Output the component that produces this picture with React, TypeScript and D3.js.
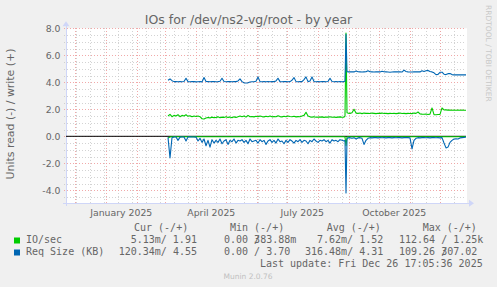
import React from "react";
import * as d3 from "d3";

const W = 497;
const H = 287;
const START = new Date(2024, 10, 21, 17, 5, 36);
const END = new Date(2025, 11, 26, 17, 5, 36);

// day offsets from START of each sample
const dayOffsets: number[] = [...d3.range(102, 279, 2), 279, 280, 281, ...d3.range(282, 401, 2)];

// Req Size (KB) write (+)
const reqWrite = [
  4.15, 4.25, 4.12, 4.05, 4.05, 4.04, 4.05, 4.04, 4.06, 4.3,
  4.05, 4.04, 4.05, 4.05, 4.03, 4.04, 4.05, 4.03, 4.35, 4.06,
  4.05, 4.04, 4.05, 4.06, 4.04, 4.05, 4.08, 4.3, 4.06, 4.04,
  4.05, 4.05, 4.04, 4.06, 4.05, 4.1, 4.25, 4.05, 3.96, 3.95,
  3.96, 4.02, 4.04, 4.04, 4.08, 4.4, 4.05, 4.04, 4.05, 4.04,
  4.05, 4.04, 4.05, 4.05, 4.1, 4.3, 4.05, 4.04, 4.05, 4.05,
  4.04, 4.05, 4.15, 4.35, 4.05, 4.04, 4.05, 4.05, 4.2, 4.4,
  4.05, 4.1, 4.4, 4.06, 4.04, 4.05, 4.04, 4.05, 4.05, 4.04,
  4.06, 4.3, 4.06, 4.04, 4.05, 4.04, 4.05, 4.04, 4.05,
  4.1, 7.55, 4.8,
  4.77, 4.77, 4.78, 4.77, 4.83, 4.78, 4.77, 4.76, 4.77, 4.78,
  4.85, 4.78, 4.77, 4.76, 4.77, 4.78, 4.77, 4.82, 4.78, 4.77,
  4.76, 4.75, 4.76, 4.77, 4.77, 4.78, 4.77, 4.76, 4.9, 4.8,
  4.77, 4.76, 4.76, 4.77, 4.77, 4.78, 4.77, 4.85, 4.8, 4.86,
  4.88, 4.8, 4.77, 4.7, 4.57, 4.58, 4.74, 4.75, 4.6, 4.57,
  4.64, 4.65, 4.57, 4.55, 4.56, 4.55, 4.55, 4.56, 4.55, 4.55,
];

// IO/sec write (+)
const ioWrite = [
  1.5, 1.62, 1.45, 1.55, 1.5, 1.6, 1.45, 1.55, 1.5, 1.6,
  1.48, 1.52, 1.45, 1.5, 1.47, 1.5, 1.45, 1.3, 1.28, 1.35,
  1.4, 1.36, 1.42, 1.38, 1.4, 1.44, 1.38, 1.42, 1.4, 1.45,
  1.4, 1.43, 1.38, 1.44, 1.4, 1.45, 1.5, 1.45, 1.5, 1.42,
  1.55, 1.45, 1.47, 1.44, 1.48, 1.45, 1.5, 1.46, 1.44, 1.48,
  1.45, 1.5, 1.44, 1.47, 1.45, 1.52, 1.46, 1.44, 1.48, 1.45,
  1.5, 1.47, 1.45, 1.48, 1.44, 1.46, 1.45, 1.5, 1.55, 1.78,
  1.5, 1.44, 1.42, 1.45, 1.41, 1.43, 1.42, 1.44, 1.4, 1.43,
  1.42, 1.45, 1.41, 1.43, 1.4, 1.42, 1.44, 1.41, 1.42,
  1.5, 7.65, 1.75,
  1.72, 1.7, 1.74, 2.0, 1.72, 1.7, 1.73, 1.68, 1.72, 1.7,
  1.71, 1.69, 1.72, 1.7, 1.68, 1.71, 1.7, 1.72, 1.69, 1.7,
  1.68, 1.7, 1.69, 1.71, 1.68, 1.7, 1.72, 1.69, 1.7, 1.68,
  1.7, 1.69, 1.68, 1.72, 1.7, 1.8, 1.66, 1.64, 1.63, 1.65,
  1.62, 1.64, 2.1, 1.6, 1.6, 1.61, 1.62, 2.1, 1.95, 1.96,
  1.94, 1.95, 1.93, 1.94, 1.93, 1.94, 1.93, 1.94, 1.93, 1.93,
];

// Req Size (KB) read (-)
const reqRead = [
  -0.08, -1.6, -0.1, -0.05, -0.05, -0.3, -0.06, -0.05, -0.05, -0.35,
  -0.05, -0.04, -0.05, -0.05, -0.06, -0.35, -0.15, -0.45, -0.2, -0.7,
  -0.3, -0.8, -0.25, -0.5, -0.3, -0.45, -0.2, -0.55, -0.35, -0.25,
  -0.6, -0.3, -0.4, -0.2, -0.5, -0.3, -0.35, -0.25, -0.45, -0.3,
  -0.55, -0.2, -0.4, -0.35, -0.3, -0.5, -0.25, -0.4, -0.3, -0.6,
  -0.35, -0.25, -0.45, -0.3, -0.5, -0.2, -0.4, -0.35, -0.55, -0.3,
  -0.45, -0.25, -0.35, -0.5, -0.3, -0.4, -0.25, -0.45, -0.3, -0.35,
  -0.55, -0.3, -0.4, -0.2, -0.35, -0.45, -0.3, -0.35, -0.25, -0.4,
  -0.3, -0.5, -0.25, -0.35, -0.3, -0.4, -0.25, -0.3, -0.35,
  -0.3, -4.2, -0.2,
  -0.12, -0.1, -0.15, -0.1, -0.2, -0.12, -0.1, -0.15, -0.6, -0.3,
  -0.15, -0.1, -0.12, -0.1, -0.1, -0.12, -0.1, -0.11, -0.1, -0.12,
  -0.1, -0.1, -0.12, -0.1, -0.11, -0.1, -0.1, -0.12, -0.1, -0.1,
  -0.1, -0.12, -0.93, -0.3, -0.15, -0.1, -0.12, -0.1, -0.1, -0.11,
  -0.1, -0.12, -0.1, -0.1, -0.11, -0.1, -0.12, -0.1, -0.5, -0.86,
  -0.8, -0.45, -0.3, -0.2, -0.18, -0.2, -0.12, -0.1, -0.08, -0.05,
];

// IO/sec read (-)
const ioRead = [
  -0.12, -0.05, -0.03, -0.03, -0.03, -0.03, -0.03, -0.03, -0.03, -0.03,
  -0.03, -0.03, -0.03, -0.03, -0.03, -0.03, -0.03, -0.03, -0.03, -0.03,
  -0.03, -0.03, -0.03, -0.03, -0.03, -0.03, -0.03, -0.03, -0.03, -0.03,
  -0.03, -0.03, -0.03, -0.03, -0.03, -0.03, -0.03, -0.03, -0.03, -0.03,
  -0.03, -0.03, -0.03, -0.03, -0.03, -0.03, -0.03, -0.03, -0.03, -0.03,
  -0.03, -0.03, -0.03, -0.03, -0.03, -0.03, -0.03, -0.03, -0.03, -0.03,
  -0.03, -0.03, -0.03, -0.03, -0.03, -0.03, -0.03, -0.03, -0.03, -0.03,
  -0.03, -0.03, -0.03, -0.03, -0.03, -0.03, -0.03, -0.03, -0.03, -0.03,
  -0.03, -0.03, -0.03, -0.03, -0.03, -0.03, -0.03, -0.03, -0.03,
  -0.05, -0.7, -0.05,
  -0.03, -0.03, -0.03, -0.03, -0.03, -0.03, -0.03, -0.03, -0.03, -0.03,
  -0.03, -0.03, -0.03, -0.03, -0.03, -0.03, -0.03, -0.03, -0.03, -0.03,
  -0.03, -0.03, -0.03, -0.03, -0.03, -0.03, -0.03, -0.03, -0.03, -0.03,
  -0.03, -0.03, -0.03, -0.03, -0.03, -0.03, -0.03, -0.03, -0.03, -0.03,
  -0.03, -0.03, -0.03, -0.03, -0.03, -0.03, -0.03, -0.03, -0.03, -0.03,
  -0.03, -0.03, -0.03, -0.03, -0.03, -0.03, -0.03, -0.03, -0.03, -0.03,
];

const yMajorTicks = [-4, -2, 0, 2, 4, 6, 8];
const yMinorTicks = [-4.5, -3.5, -3, -2.5, -1.5, -1, -0.5, 0.5, 1, 1.5, 2.5, 3, 3.5, 4.5, 5, 5.5, 6.5, 7, 7.5];
const monthLabels = ["January 2025", "April 2025", "July 2025", "October 2025"];

const legendHeaders = ["Cur (-/+)", "Min (-/+)", "Avg (-/+)", "Max (-/+)"];
const seriesNames = ["IO/sec", "Req Size (KB)"];
const seriesColors = ["#00CC00", "#0066B3"];
// [before slash, after slash] pairs; overlapping slash reproduced as in the original
const legendRow1: [string, string][] = [["5.13m", " 1.91"], ["0.00 ", "383.88m"], ["7.62m", " 1.52"], ["112.64 ", " 1.25k"]];
const legendRow2: [string, string][] = [["120.34m", " 4.55"], ["0.00 ", " 3.70"], ["316.48m", " 4.31"], ["109.26 ", "307.02"]];
const overlapRow1 = [false, true, false, false];
const overlapRow2 = [false, false, false, true];

const L = 66, R = 466, T = 28.3, B = 203.3;

export default function App() {
  const x = d3.scaleTime().domain([START, END]).range([L, R]);
  const y = d3.scaleLinear().domain([-4.963, 8]).range([B, T]);
  const dates = dayOffsets.map((d) => d3.timeDay.offset(START, d));

  const mkLine = (vals: number[]) =>
    d3
      .line<number>()
      .x((_, i) => x(dates[i]))
      .y((v) => y(v))(vals) || "";

  const months = d3.timeMonth.range(START, END);
  const minorV: Date[] = [];
  for (let t = new Date(2024, 10, 18); t < END; t = d3.timeDay.offset(t, 14)) {
    if (t > START) minorV.push(t);
  }
  const labelMonths = [new Date(2025, 0, 1), new Date(2025, 3, 1), new Date(2025, 6, 1), new Date(2025, 9, 1)];

  const sans = "'DejaVu Sans', sans-serif";
  const mono = "'DejaVu Sans Mono', monospace";
  const fc = "#666666";
  const cw = 6.02;

  const colStart1 = [130.7, 224, 317, 399];
  const colStart2 = [118.7, 224, 305, 399];

  const legendCell = (pair: [string, string], overlap: boolean, xs: number, ys: number, key: string) => (
    <text key={key} x={xs} y={ys} fontFamily={mono} fontSize={10} fill={fc} style={{ whiteSpace: "pre" }}>
      <tspan>{pair[0]}</tspan>
      <tspan>/</tspan>
      <tspan dx={overlap ? -cw : 0}>{pair[1]}</tspan>
    </text>
  );

  return (
    <svg width={W} height={H} style={{ position: "absolute", left: 0, top: 0 }} xmlns="http://www.w3.org/2000/svg">
      <rect x={0} y={0} width={W} height={H} fill="#F0F0F0" />
      <rect x={L} y={T} width={R - L + 1} height={B - T} fill="#FFFFFF" />

      <g stroke="#c8c8c8" strokeWidth={0.8} strokeDasharray="1,2" shapeRendering="crispEdges">
        {yMinorTicks.map((v) => (
          <line key={"hm" + v} x1={L - 2} x2={R} y1={Math.round(y(v)) + 0.5} y2={Math.round(y(v)) + 0.5} />
        ))}
        {minorV.map((d) => (
          <line key={"vm" + d.getTime()} x1={Math.round(x(d)) + 0.5} x2={Math.round(x(d)) + 0.5} y1={T} y2={B + 2} />
        ))}
      </g>
      <g stroke="#f0a0a0" strokeWidth={0.9} strokeDasharray="1,2" shapeRendering="crispEdges">
        {yMajorTicks.map((v) => (
          <line key={"hM" + v} x1={L - 2} x2={R} y1={Math.round(y(v)) + 0.5} y2={Math.round(y(v)) + 0.5} />
        ))}
        {months.map((d) => (
          <line key={"vM" + d.getTime()} x1={Math.round(x(d)) + 0.5} x2={Math.round(x(d)) + 0.5} y1={T} y2={B + 2} />
        ))}
      </g>

      <g stroke="#CFD6F8" strokeWidth={1} shapeRendering="crispEdges">
        <line x1={L - 3} x2={R + 4} y1={B} y2={B} />
        <line x1={L} x2={L} y1={B + 3} y2={T - 4} />
      </g>
      <path d={`M${R + 3},${B - 3.5} L${R + 8},${B} L${R + 3},${B + 3.5} Z`} fill="#CFD6F8" />
      <path d={`M${L - 3.5},${T - 2} L${L},${T - 7} L${L + 3.5},${T - 2} Z`} fill="#CFD6F8" />

      {yMajorTicks.map((v) => (
        <text key={"yl" + v} x={60.5} y={y(v) + 3.4} textAnchor="end" fontFamily={sans} fontSize={9.33} fill={fc}>
          {v.toFixed(1)}
        </text>
      ))}
      {labelMonths.map((d, i) => (
        <text key={"xl" + i} x={x(d3.timeDay.offset(d, 15))} y={216} textAnchor="middle" fontFamily={sans} fontSize={9.33} fill={fc}>
          {monthLabels[i]}
        </text>
      ))}

      <line x1={L} x2={R} y1={y(0)} y2={y(0)} stroke="#000" strokeWidth={1} />

      <g fill="none" strokeWidth={1.1} strokeLinejoin="round">
        <path d={mkLine(ioRead)} stroke={seriesColors[0]} />
        <path d={mkLine(ioWrite)} stroke={seriesColors[0]} />
        <path d={mkLine(reqRead)} stroke={seriesColors[1]} />
        <path d={mkLine(reqWrite)} stroke={seriesColors[1]} />
      </g>

      <text x={248.5} y={24} textAnchor="middle" fontFamily={sans} fontSize={12.5} fill={fc}>
        IOs for /dev/ns2-vg/root - by year
      </text>
      <text transform="translate(14.3,114) rotate(-90)" textAnchor="middle" fontFamily={sans} fontSize={10.9} fill={fc}>
        Units read (-) / write (+)
      </text>
      <text transform="translate(485.5,5) rotate(90)" textAnchor="start" fontFamily={sans} fontSize={7.5} fill="#c8c8c8">
        RRDTOOL / TOBI OETIKER
      </text>

      {legendHeaders.map((h, i) => (
        <text key={"lh" + i} x={[134, 230, 326.7, 422.7][i]} y={231} fontFamily={mono} fontSize={10} fill={fc} style={{ whiteSpace: "pre" }}>
          {h}
        </text>
      ))}
      {seriesNames.map((n, r) => (
        <g key={"ls" + r}>
          <rect x={14} y={237.5 + r * 12} width={6} height={6} fill={seriesColors[r]} />
          <text x={26} y={243 + r * 12} fontFamily={mono} fontSize={10} fill={fc} style={{ whiteSpace: "pre" }}>
            {n}
          </text>
        </g>
      ))}
      {legendRow1.map((p, i) => legendCell(p, overlapRow1[i], colStart1[i], 243, "r1" + i))}
      {legendRow2.map((p, i) => legendCell(p, overlapRow2[i], colStart2[i], 255, "r2" + i))}
      <text x={482.7} y={267} textAnchor="end" fontFamily={mono} fontSize={10} fill={fc}>
        Last update: Fri Dec 26 17:05:36 2025
      </text>
      <text x={248} y={279} textAnchor="middle" fontFamily={sans} fontSize={7.5} fill="#c0c0c0">
        Munin 2.0.76
      </text>
    </svg>
  );
}
